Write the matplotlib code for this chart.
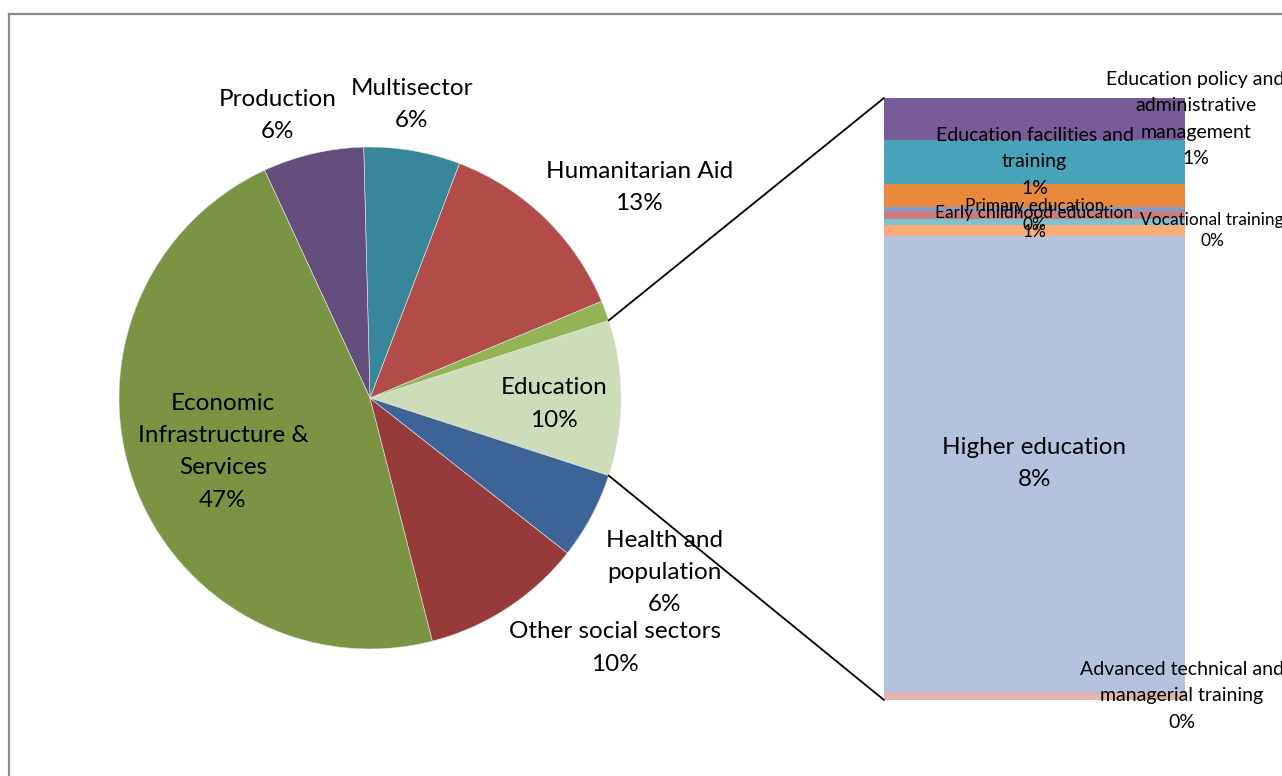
import matplotlib
matplotlib.use("Agg")
import matplotlib.pyplot as plt
from matplotlib.patches import ConnectionPatch
from matplotlib.lines import Line2D
import numpy as np

# ---------------- data ----------------
pie_labels = ["Education", "", "Humanitarian Aid", "Multisector", "Production",
              "Economic\nInfrastructure &\nServices", "Other social sectors",
              "Health and\npopulation"]
pie_values = [10.0, 1.3, 12.9, 6.2, 6.5, 47.1, 10.4, 5.6]
pie_pct_text = ["10%", "", "13%", "6%", "6%", "47%", "10%", "6%"]

bar_names = ["Advanced technical and\nmanagerial training", "Higher education",
             "Vocational training", "Early childhood education", "Primary education",
             "", "", "Education facilities and\ntraining",
             "Education policy and\nadministrative\nmanagement"]
bar_values = [0.14, 7.59, 0.17, 0.10, 0.14, 0.07, 0.38, 0.73, 0.70]
bar_pct_text = ["0%", "8%", "0%", "1%", "0%", "", "", "1%", "1%"]

# ---------------- style ----------------
W, H = 1282, 776
FONT = "Lato"
pie_colors = ["#CDDDB9", "#93B355", "#B24C48", "#38869A", "#634E7E",
              "#7A9443", "#963B39", "#3C6496"]
bar_colors = ["#E1B4B3", "#B4C2DD", "#F9AC78", "#7DC2D1", "#CB7C7C",
              "#7D9ECE", "#E8893C", "#48A3BA", "#785C97"]

# label positions in pie-radius units
pie_label_pos = [(0.733, -0.024), None, (1.072, 0.837), (0.167, 1.171),
                 (-0.367, 1.124), (-0.586, -0.215), (0.976, -0.996),
                 (1.175, -0.697)]
# horizontal offset (fraction of bar width) for bar labels, relative to bar centre
bar_label_dx = [0.49, 0.0, 0.59, 0.0, 0.0, 0.0, 0.0, 0.0, 0.535]
bar_label_size = [14, 17.5, 12.5, 12.5, 12.5, 12, 12, 14, 14]
bar_label_ls = [1.68, 1.62, 1.35, 1.25, 1.25, 1.25, 1.25, 1.68, 1.68]

fig = plt.figure(figsize=(W / 100, H / 100), dpi=100)
fig.patch.set_facecolor("white")

# frame (partially visible)
fig.add_artist(Line2D([9 / W, 1.0], [1 - 14 / H, 1 - 14 / H], color="#8C8C8C",
                      lw=1.6, transform=fig.transFigure))
fig.add_artist(Line2D([9 / W, 9 / W], [0, 1 - 14 / H], color="#8C8C8C",
                      lw=1.6, transform=fig.transFigure))

# pie axes
cx, cy, R = 370, 398, 251
axp = fig.add_axes([(cx - R) / W, (H - cy - R) / H, 2 * R / W, 2 * R / H])
start = -pie_values[0] / sum(pie_values) * 360 / 2
wedges, _ = axp.pie(pie_values, colors=pie_colors, startangle=start,
                    counterclock=True, radius=1.0,
                    wedgeprops=dict(linewidth=0.4, edgecolor="#E8E8E8"))
axp.set_xlim(-1, 1)
axp.set_ylim(-1, 1)
axp.set_aspect("equal")
axp.axis("off")
for lab, pct, pos in zip(pie_labels, pie_pct_text, pie_label_pos):
    if pos is None or not lab:
        continue
    axp.text(pos[0], pos[1], lab + "\n" + pct, ha="center", va="center",
             fontsize=17.5, family=FONT, linespacing=1.65, color="black")

# bar axes
bx0, bx1, by0, by1 = 884, 1185, 98, 700
axb = fig.add_axes([bx0 / W, (H - by1) / H, (bx1 - bx0) / W, (by1 - by0) / H])
bottom = 0.0
for name, val, pct, col, dx, fs, ls in zip(bar_names, bar_values, bar_pct_text,
                                           bar_colors, bar_label_dx,
                                           bar_label_size, bar_label_ls):
    axb.bar(0.5, val, width=1.0, bottom=bottom, color=col, edgecolor="none")
    if name:
        axb.text(0.5 + dx, bottom + val / 2, name + "\n" + pct, ha="center",
                 va="center", fontsize=fs, family=FONT, linespacing=ls,
                 color="black", clip_on=False)
    bottom += val
axb.set_xlim(0, 1)
axb.set_ylim(0, bottom)
axb.axis("off")

# connector lines from the education wedge to the bar
edu = wedges[0]
for ang, yb in [(edu.theta2, bottom), (edu.theta1, 0.0)]:
    p = (np.cos(np.deg2rad(ang)), np.sin(np.deg2rad(ang)))
    con = ConnectionPatch(xyA=p, coordsA=axp.transData, xyB=(0, yb),
                          coordsB=axb.transData, color="black", lw=1.3)
    fig.add_artist(con)

fig.savefig("out.png", dpi=100, facecolor="white")
